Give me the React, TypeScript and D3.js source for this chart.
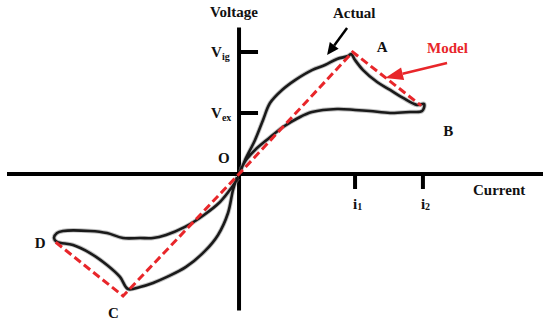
import React, { useEffect, useRef } from 'react';
import * as d3 from 'd3';

// model (piecewise linear) : D -> C -> O -> A -> B
const modelCurrent = [-1.58, -1.0, 0, 0.98, 1.57];
const modelVoltage = [-0.56, -1.0, 0, 1.0, 0.56];

// actual loop, positive quadrant (O -> A -> B -> O)
const upperCurrent = [0.01, 0.052, 0.138, 0.207, 0.267, 0.371, 0.483, 0.629, 0.741, 0.845, 0.94, 0.966, 1.0, 1.069, 1.19, 1.302, 1.414, 1.534, 1.595, 1.578, 1.474, 1.302, 1.129, 1.0, 0.845, 0.629, 0.509, 0.379, 0.25, 0.138, 0.06, 0.017];
const upperVoltage = [0.016, 0.115, 0.279, 0.443, 0.582, 0.689, 0.77, 0.852, 0.893, 0.943, 0.967, 0.984, 0.934, 0.852, 0.754, 0.689, 0.623, 0.566, 0.574, 0.516, 0.508, 0.5, 0.516, 0.525, 0.533, 0.508, 0.459, 0.385, 0.287, 0.197, 0.115, 0.041];

// actual loop, negative quadrant (O -> C -> D -> O)
const lowerCurrent = [-0.017, -0.052, -0.095, -0.181, -0.293, -0.457, -0.621, -0.741, -0.853, -0.957, -1.026, -1.138, -1.284, -1.431, -1.569, -1.595, -1.569, -1.517, -1.284, -1.138, -1.0, -0.853, -0.741, -0.629, -0.466, -0.302, -0.164, -0.06, -0.009];
const lowerVoltage = [-0.025, -0.131, -0.32, -0.5, -0.631, -0.762, -0.844, -0.893, -0.926, -0.943, -0.844, -0.746, -0.648, -0.582, -0.557, -0.525, -0.484, -0.467, -0.467, -0.484, -0.525, -0.525, -0.525, -0.5, -0.434, -0.336, -0.23, -0.107, -0.033];

// axis ticks
const voltageTicks = [1.0, 0.5];
const voltageLabels = [['V', 'ig'], ['V', 'ex']];
const currentTicks = [1.0, 1.585];
const currentLabels = [['i', '1'], ['i', '2']];

const font = '"Liberation Serif", "Times New Roman", serif';
const red = '#e8262a';

const App = () => {
  const svgRef = useRef<SVGSVGElement>(null);

  useEffect(() => {
    const svg = d3.select(svgRef.current);
    svg.selectAll('*').remove();

    const x = d3.scaleLinear().domain([-2.0, 2.62]).range([7, 543]);
    const y = d3.scaleLinear().domain([-1.12, 1.2]).range([310.6, 27.6]);

    const line = d3
      .line<[number, number]>()
      .x((d) => x(d[0]))
      .y((d) => y(d[1]));

    const smooth = d3
      .line<[number, number]>()
      .x((d) => x(d[0]))
      .y((d) => y(d[1]))
      .curve(d3.curveCatmullRom.alpha(0.5));

    // axes
    svg.append('line')
      .attr('x1', x(-2.0)).attr('x2', x(2.62))
      .attr('y1', y(0)).attr('y2', y(0))
      .attr('stroke', '#000').attr('stroke-width', 4);
    svg.append('line')
      .attr('x1', x(0)).attr('x2', x(0))
      .attr('y1', y(1.2)).attr('y2', y(-1.12))
      .attr('stroke', '#000').attr('stroke-width', 4);

    // voltage ticks
    voltageTicks.forEach((v, i) => {
      svg.append('line')
        .attr('x1', x(0)).attr('x2', x(0) + 19)
        .attr('y1', y(v)).attr('y2', y(v))
        .attr('stroke', '#000').attr('stroke-width', 4);
      const t = svg.append('text')
        .attr('x', x(0) - 28).attr('y', y(v) + 5)
        .attr('font-family', font).attr('font-weight', 'bold')
        .attr('font-size', 15).attr('fill', '#111');
      t.append('tspan').text(voltageLabels[i][0]);
      t.append('tspan').attr('font-size', 10).attr('dy', 3).text(voltageLabels[i][1]);
    });

    // current ticks
    currentTicks.forEach((c, i) => {
      svg.append('line')
        .attr('x1', x(c)).attr('x2', x(c))
        .attr('y1', y(0)).attr('y2', y(0) + 15)
        .attr('stroke', '#000').attr('stroke-width', 4);
      const t = svg.append('text')
        .attr('x', x(c) - 2).attr('y', y(0) + 35)
        .attr('font-family', font).attr('font-weight', 'bold')
        .attr('font-size', 15).attr('fill', '#111');
      t.append('tspan').text(currentLabels[i][0]);
      t.append('tspan').attr('font-size', 10).attr('dy', 1).text(currentLabels[i][1]);
    });

    // actual curves
    const upper = upperCurrent.map((c, i) => [c, upperVoltage[i]] as [number, number]);
    const lower = lowerCurrent.map((c, i) => [c, lowerVoltage[i]] as [number, number]);
    [upper, lower].forEach((pts) => {
      svg.append('path')
        .datum(pts)
        .attr('fill', 'none')
        .attr('stroke', '#888')
        .attr('stroke-opacity', 0.5)
        .attr('stroke-width', 4.5)
        .attr('d', smooth);
      svg.append('path')
        .datum(pts)
        .attr('fill', 'none')
        .attr('stroke', '#1a1a1a')
        .attr('stroke-width', 2.6)
        .attr('stroke-linejoin', 'round')
        .attr('d', smooth);
    });

    // model
    const model = modelCurrent.map((c, i) => [c, modelVoltage[i]] as [number, number]);
    svg.append('path')
      .datum(model)
      .attr('fill', 'none')
      .attr('stroke', red)
      .attr('stroke-width', 3)
      .attr('stroke-dasharray', '8,4')
      .attr('d', line);

    // labels
    const label = (text: string, lx: number, ly: number, color = '#111', size = 15) =>
      svg.append('text')
        .attr('x', lx).attr('y', ly)
        .attr('font-family', font).attr('font-weight', 'bold')
        .attr('font-size', size).attr('fill', color)
        .text(text);

    label('Voltage', x(0) - 29, 17);
    label('Current', 473, y(0) + 21);
    label('O', x(0) - 21, y(0) - 11);
    label('A', x(0.98) + 24, y(1.0));
    label('B', x(1.57) + 22, y(0.56) + 30);
    label('C', x(-1.0) - 15, y(-1.0) + 22);
    label('D', x(-1.58) - 21, y(-0.56) + 6);
    label('Actual', 333, 18);
    label('Model', 427, 53, red);

    // arrows
    const arrow = (x1: number, y1: number, x2: number, y2: number, color: string, w: number, hl: number, hw: number) => {
      const ang = Math.atan2(y2 - y1, x2 - x1);
      const bx = x2 - hl * Math.cos(ang);
      const by = y2 - hl * Math.sin(ang);
      svg.append('line')
        .attr('x1', x1).attr('y1', y1).attr('x2', bx).attr('y2', by)
        .attr('stroke', color).attr('stroke-width', w);
      const px = -Math.sin(ang) * hw / 2;
      const py = Math.cos(ang) * hw / 2;
      svg.append('path')
        .attr('d', `M${x2},${y2}L${bx + px},${by + py}L${bx - px},${by - py}Z`)
        .attr('fill', color);
    };
    arrow(x(0.931), y(1.197), x(0.759), y(0.975), '#000', 2.5, 12, 11);
    arrow(x(1.793), y(0.91), x(1.259), y(0.787), red, 2.5, 18, 13);
  }, []);

  return (
    <svg
      ref={svgRef}
      width={550}
      height={324}
      style={{ position: 'absolute', left: 0, top: 0, background: '#fff' }}
    />
  );
};

export default App;
